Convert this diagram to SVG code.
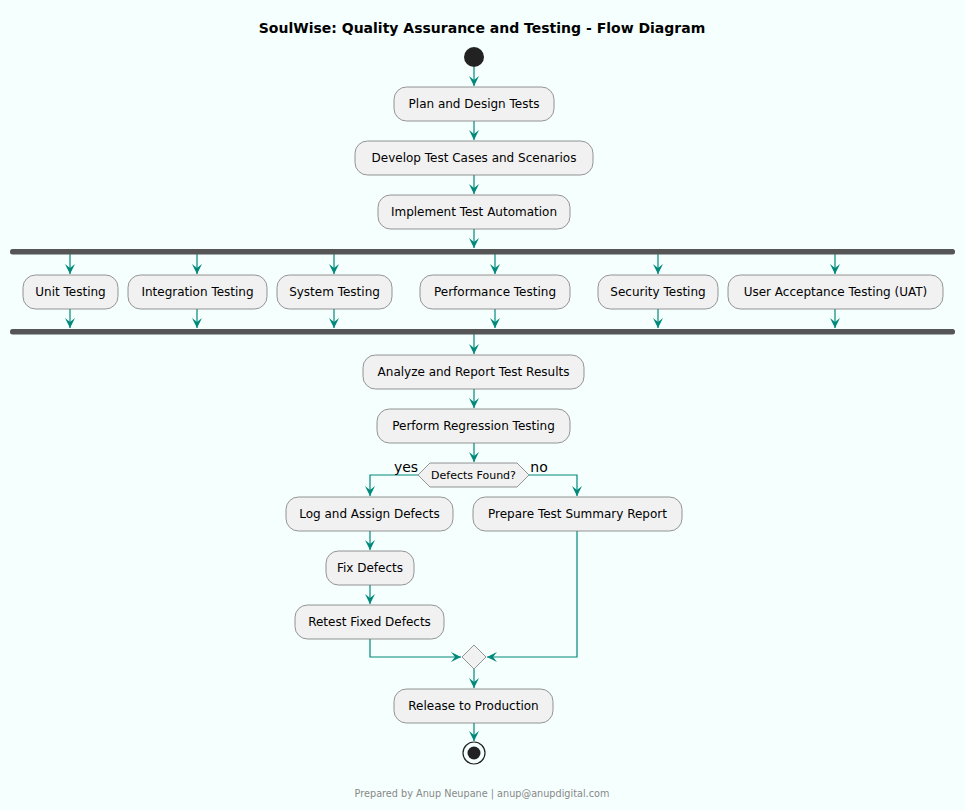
<svg xmlns="http://www.w3.org/2000/svg" width="965" height="810" viewBox="0 0 965 810">
<defs>
<marker id="ah" markerWidth="10" markerHeight="12" refX="10" refY="5" orient="auto" markerUnits="userSpaceOnUse" viewBox="0 0 10 10">
<path d="M0,0 L10,5 L0,10 L4,5 Z" fill="#00897B"/>
</marker>
<style>
.box{fill:#F1F1F1;stroke:#7A7A7A;stroke-width:0.8}
.t{font-family:"DejaVu Sans",Verdana,sans-serif;font-size:12px;fill:#000;text-anchor:middle}
.c{fill:none;stroke:#00897B;stroke-width:1.2}
.bar{fill:#555555}
</style>
</defs>
<rect width="965" height="810" fill="#F5FFFE"/>
<text x="482" y="33" font-family="'DejaVu Sans',Verdana,sans-serif" font-size="14" font-weight="bold" text-anchor="middle">SoulWise: Quality Assurance and Testing - Flow Diagram</text>

<g id="connectors">
<path class="c" d="M474,67 V86" marker-end="url(#ah)"/>
<path class="c" d="M474,121 V140" marker-end="url(#ah)"/>
<path class="c" d="M474,175 V194" marker-end="url(#ah)"/>
<path class="c" d="M474,229 V248" marker-end="url(#ah)"/>
<path class="c" d="M70,254 V274" marker-end="url(#ah)"/>
<path class="c" d="M197,254 V274" marker-end="url(#ah)"/>
<path class="c" d="M334,254 V274" marker-end="url(#ah)"/>
<path class="c" d="M495,254 V274" marker-end="url(#ah)"/>
<path class="c" d="M658,254 V274" marker-end="url(#ah)"/>
<path class="c" d="M835,254 V274" marker-end="url(#ah)"/>
<path class="c" d="M70,309 V328" marker-end="url(#ah)"/>
<path class="c" d="M197,309 V328" marker-end="url(#ah)"/>
<path class="c" d="M334,309 V328" marker-end="url(#ah)"/>
<path class="c" d="M495,309 V328" marker-end="url(#ah)"/>
<path class="c" d="M658,309 V328" marker-end="url(#ah)"/>
<path class="c" d="M835,309 V328" marker-end="url(#ah)"/>
<path class="c" d="M474,334 V354" marker-end="url(#ah)"/>
<path class="c" d="M474,389 V408" marker-end="url(#ah)"/>
<path class="c" d="M474,443 V462" marker-end="url(#ah)"/>
<path class="c" d="M418,475 H370 V496" marker-end="url(#ah)"/>
<path class="c" d="M529,475 H577 V496" marker-end="url(#ah)"/>
<path class="c" d="M370,531 V550" marker-end="url(#ah)"/>
<path class="c" d="M370,585 V604" marker-end="url(#ah)"/>
<path class="c" d="M370,639 V657 H461" marker-end="url(#ah)"/>
<path class="c" d="M577,531 V657 H487" marker-end="url(#ah)"/>
<path class="c" d="M474,669 V688" marker-end="url(#ah)"/>
<path class="c" d="M474,723 V741" marker-end="url(#ah)"/>
<text x="406" y="472" font-family="'DejaVu Sans',Verdana,sans-serif" font-size="14" text-anchor="middle" fill="#000">yes</text>
<text x="539" y="472" font-family="'DejaVu Sans',Verdana,sans-serif" font-size="14" text-anchor="middle" fill="#000">no</text>
</g>

<g id="start"><circle cx="474" cy="57" r="10" fill="#222222"/></g>
<g id="plan"><rect class="box" x="394" y="87" width="160" height="34" rx="12.5"/><text class="t" x="474" y="108">Plan and Design Tests</text></g>
<g id="develop"><rect class="box" x="355" y="141" width="238" height="34" rx="12.5"/><text class="t" x="474" y="162">Develop Test Cases and Scenarios</text></g>
<g id="implement"><rect class="box" x="378" y="195" width="192" height="34" rx="12.5"/><text class="t" x="474" y="216">Implement Test Automation</text></g>
<g id="fork"><rect class="bar" x="10" y="249" width="945" height="5.5" rx="2.5"/></g>
<g id="unit"><rect class="box" x="23" y="275" width="95" height="34" rx="12.5"/><text class="t" x="70.5" y="296">Unit Testing</text></g>
<g id="integration"><rect class="box" x="128" y="275" width="139" height="34" rx="12.5"/><text class="t" x="197.5" y="296">Integration Testing</text></g>
<g id="system"><rect class="box" x="277" y="275" width="115" height="34" rx="12.5"/><text class="t" x="334.5" y="296">System Testing</text></g>
<g id="performance"><rect class="box" x="420" y="275" width="150" height="34" rx="12.5"/><text class="t" x="495" y="296">Performance Testing</text></g>
<g id="security"><rect class="box" x="598" y="275" width="120" height="34" rx="12.5"/><text class="t" x="658" y="296">Security Testing</text></g>
<g id="uat"><rect class="box" x="728" y="275" width="215" height="34" rx="12.5"/><text class="t" x="835.5" y="296">User Acceptance Testing (UAT)</text></g>
<g id="join"><rect class="bar" x="10" y="329" width="945" height="5.5" rx="2.5"/></g>
<g id="analyze"><rect class="box" x="363" y="355" width="221" height="34" rx="12.5"/><text class="t" x="473.5" y="376">Analyze and Report Test Results</text></g>
<g id="regression"><rect class="box" x="377" y="409" width="193" height="34" rx="12.5"/><text class="t" x="473.5" y="430">Perform Regression Testing</text></g>
<g id="decision"><polygon class="box" points="418,475 430,463 517,463 529,475 517,487 430,487"/><text x="473.5" y="479" font-family="'DejaVu Sans',Verdana,sans-serif" font-size="11" text-anchor="middle">Defects Found?</text></g>
<g id="log"><rect class="box" x="286" y="497" width="167" height="34" rx="12.5"/><text class="t" x="369.5" y="518">Log and Assign Defects</text></g>
<g id="summary"><rect class="box" x="473" y="497" width="209" height="34" rx="12.5"/><text class="t" x="577.5" y="518">Prepare Test Summary Report</text></g>
<g id="fix"><rect class="box" x="326" y="551" width="88" height="34" rx="12.5"/><text class="t" x="370" y="572">Fix Defects</text></g>
<g id="retest"><rect class="box" x="295" y="605" width="149" height="34" rx="12.5"/><text class="t" x="369.5" y="626">Retest Fixed Defects</text></g>
<g id="merge"><polygon class="box" points="474,645 486,657 474,669 462,657"/></g>
<g id="release"><rect class="box" x="394" y="689" width="159" height="34" rx="12.5"/><text class="t" x="473.5" y="710">Release to Production</text></g>
<g id="end"><circle cx="474" cy="753" r="11" fill="none" stroke="#222222" stroke-width="1.2"/><circle cx="474" cy="753" r="6.5" fill="#222222"/></g>
<text x="482" y="797" font-family="'DejaVu Sans',Verdana,sans-serif" font-size="9.7" fill="#888888" text-anchor="middle">Prepared by Anup Neupane | anup@anupdigital.com</text>
</svg>
